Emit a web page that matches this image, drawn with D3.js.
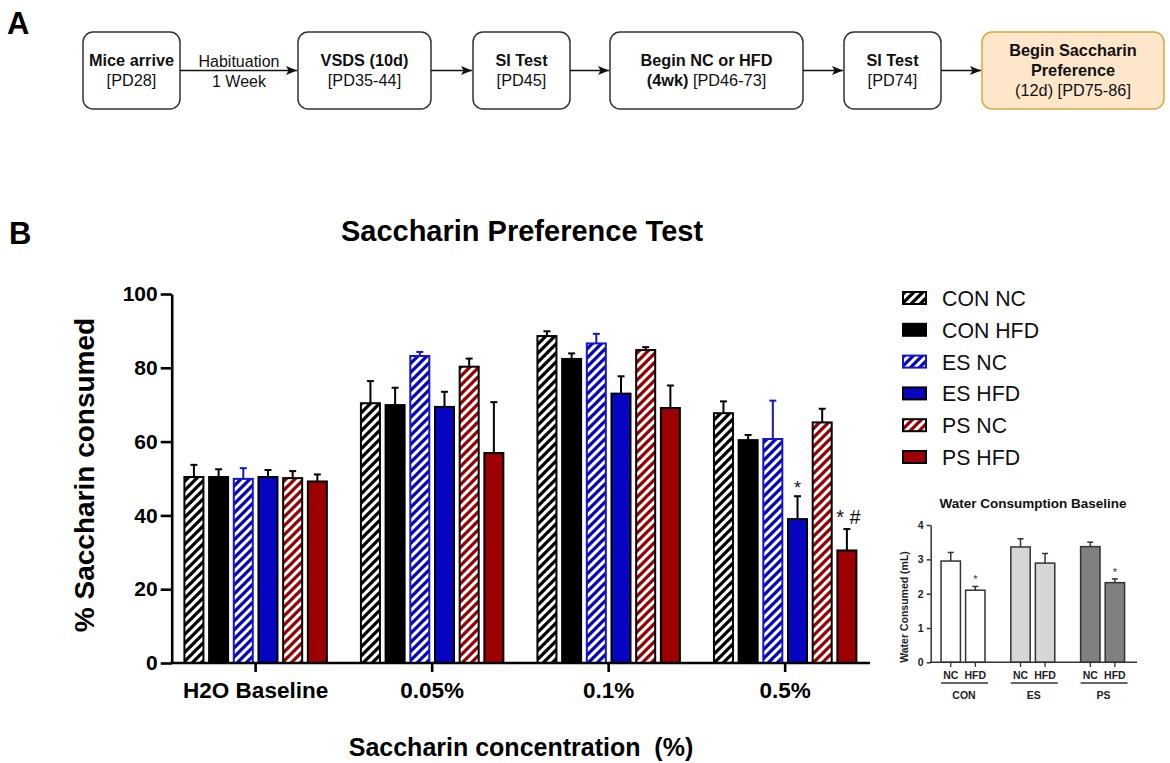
<!DOCTYPE html>
<html><head><meta charset="utf-8">
<script src="https://cdn.jsdelivr.net/npm/d3@7"></script>
<style>
body{margin:0;background:#fff}
svg{display:block}
text{font-family:"Liberation Sans",Arial,Helvetica,sans-serif}
</style>
</head><body>
<svg id="c" width="1170" height="763"></svg>
<script>
// ---------- DATA ----------
const categories = ["H2O Baseline", "0.05%", "0.1%", "0.5%"];
const seriesNames = ["CON NC", "CON HFD", "ES NC", "ES HFD", "PS NC", "PS HFD"];
const conNC     = [50.4, 70.4, 88.6, 67.7];
const conNCsem  = [3.3, 6.0, 1.3, 3.2];
const conHFD    = [50.4, 69.9, 82.4, 60.4];
const conHFDsem = [2.1, 4.7, 1.5, 1.4];
const esNC      = [49.9, 83.2, 86.6, 60.7];
const esNCsem   = [2.9, 1.1, 2.6, 10.4];
const esHFD     = [50.4, 69.4, 73.0, 39.0];
const esHFDsem  = [1.9, 4.1, 4.7, 6.2];
const psNC      = [50.1, 80.3, 84.8, 65.2];
const psNCsem   = [1.9, 2.2, 0.8, 3.7];
const psHFD     = [49.2, 56.9, 69.1, 30.5];
const psHFDsem  = [1.9, 13.8, 6.1, 5.8];
const yTicks = [0, 20, 40, 60, 80, 100];
const annotations = [ {series: "ES HFD", category: "0.5%", text: "*"}, {series: "PS HFD", category: "0.5%", text: "* #"} ];

const insetGroups = ["CON", "ES", "PS"];
const insetDiets  = ["NC", "HFD"];
const insetMeans  = [2.95, 2.10, 3.36, 2.89, 3.37, 2.32];
const insetSem    = [0.25, 0.11, 0.24, 0.28, 0.13, 0.11];
const insetStars  = ["", "*", "", "", "", "*"];
const insetTicks  = [0, 1, 2, 3, 4];

const flowSteps = [
  [[["Mice arrive", 1]], [["[PD28]", 0]]],
  [[["VSDS (10d)", 1]], [["[PD35-44]", 0]]],
  [[["SI Test", 1]], [["[PD45]", 0]]],
  [[["Begin NC or HFD", 1]], [["(4wk)", 1], [" [PD46-73]", 0]]],
  [[["SI Test", 1]], [["[PD74]", 0]]],
  [[["Begin Saccharin", 1]], [["Preference", 1]], [["(12d) [PD75-86]", 0]]]
];
const flowLinkLabels = [["Habituation", "1 Week"], null, null, null, null];

// ---------- STYLE / LAYOUT ----------
const seriesMeans = {"CON NC": conNC, "CON HFD": conHFD, "ES NC": esNC, "ES HFD": esHFD, "PS NC": psNC, "PS HFD": psHFD};
const seriesSems  = {"CON NC": conNCsem, "CON HFD": conHFDsem, "ES NC": esNCsem, "ES HFD": esHFDsem, "PS NC": psNCsem, "PS HFD": psHFDsem};
const BLUE = "#0505c2", RED = "#9c0000", EBLUE = "#1515cc";
const seriesStyle = {
  "CON NC":  {fill: "url(#hK)", stroke: "#000", err: "#000"},
  "CON HFD": {fill: "#000",     stroke: "#000", err: "#000"},
  "ES NC":   {fill: "url(#hB)", stroke: EBLUE,  err: EBLUE},
  "ES HFD":  {fill: BLUE,       stroke: "#000", err: "#000"},
  "PS NC":   {fill: "url(#hR)", stroke: "#000", err: "#000"},
  "PS HFD":  {fill: RED,        stroke: "#000", err: "#000"}
};
const insetFill = {"CON": "#ffffff", "ES": "#d6d6d6", "PS": "#808080"};
const boxX = [[83,180],[298,431],[473,570],[610,803],[844,941],[982,1164]];

const svg = d3.select("#c");
const defs = svg.append("defs");
[["hK","#000"],["hB",BLUE],["hR",RED]].forEach(([id,col])=>{
  const p = defs.append("pattern").attr("id",id).attr("patternUnits","userSpaceOnUse")
    .attr("width",9).attr("height",9);
  p.append("rect").attr("width",9).attr("height",9).attr("fill","#fff");
  p.append("path").attr("d","M-2,2 L2,-2 M0,9 L9,0 M7,11 L11,7")
    .attr("stroke",col).attr("stroke-width",3.3).attr("stroke-linecap","square");
});
defs.append("marker").attr("id","arr").attr("markerUnits","userSpaceOnUse")
  .attr("markerWidth",12).attr("markerHeight",10).attr("refX",11).attr("refY",4.5)
  .attr("orient","auto")
  .append("path").attr("d","M0,0 L11,4.5 L0,9 L2.5,4.5 z").attr("fill","#111");

// ---------- PANEL A: flow chart ----------
svg.append("text").attr("x",7).attr("y",34).attr("font-size",31).attr("font-weight","bold").text("A");
const boxTop = 32, boxBot = 109, midY = (boxTop+boxBot)/2;
flowSteps.forEach((lines,i)=>{
  const [x1,x2] = boxX[i];
  const last = i === flowSteps.length-1;
  svg.append("rect").attr("x",x1).attr("y",boxTop).attr("width",x2-x1).attr("height",boxBot-boxTop)
    .attr("rx",10).attr("fill", last ? "#fde6ca" : "#fff")
    .attr("stroke", last ? "#d8a640" : "#333").attr("stroke-width",1.5);
  const cx = (x1+x2)/2;
  const startY = midY - (lines.length-1)*10 - 0.5;
  lines.forEach((parts,j)=>{
    const t = svg.append("text").attr("x",cx).attr("y",startY + j*20)
      .attr("text-anchor","middle").attr("dominant-baseline","central")
      .attr("font-size",16.3).attr("fill","#111").style("white-space","pre");
    parts.forEach(([s,b])=>t.append("tspan").attr("font-weight", b ? "bold" : "normal").text(s));
  });
  if (i < flowSteps.length-1) {
    const xa = x2, xb = boxX[i+1][0];
    svg.append("line").attr("x1",xa).attr("x2",xb-1).attr("y1",midY).attr("y2",midY)
      .attr("stroke","#111").attr("stroke-width",1.5).attr("marker-end","url(#arr)");
    const lab = flowLinkLabels[i];
    if (lab) {
      svg.append("text").attr("x",(xa+xb)/2).attr("y",midY-9).attr("text-anchor","middle")
        .attr("dominant-baseline","central").attr("font-size",16).attr("fill","#111").text(lab[0]);
      svg.append("text").attr("x",(xa+xb)/2).attr("y",midY+11).attr("text-anchor","middle")
        .attr("dominant-baseline","central").attr("font-size",16).attr("fill","#111").text(lab[1]);
    }
  }
});

// ---------- PANEL B: main chart ----------
svg.append("text").attr("x",9).attr("y",244).attr("font-size",31).attr("font-weight","bold").text("B");
svg.append("text").attr("x",522).attr("y",231).attr("text-anchor","middle").attr("dominant-baseline","central")
  .attr("font-size",29).attr("font-weight","bold").text("Saccharin Preference Test");

const y = d3.scaleLinear().domain([0,100]).range([663,294]);
const x0 = d3.scaleBand().domain(categories).range([171.7,869.1]).paddingInner(0.193).paddingOuter(0.072);
const x1 = d3.scaleBand().domain(seriesNames).range([0,x0.bandwidth()]).paddingInner(0.23);

const gBars = svg.append("g");
categories.forEach((cat,ci)=>{
  seriesNames.forEach(s=>{
    const m = seriesMeans[s][ci], e = seriesSems[s][ci], st = seriesStyle[s];
    const bx = x0(cat)+x1(s), bw = x1.bandwidth(), cx = bx + bw/2;
    gBars.append("line").attr("x1",cx).attr("x2",cx).attr("y1",y(m)).attr("y2",y(m+e))
      .attr("stroke",st.err).attr("stroke-width",2);
    gBars.append("line").attr("x1",cx-3.5).attr("x2",cx+3.5).attr("y1",y(m+e)).attr("y2",y(m+e))
      .attr("stroke",st.err).attr("stroke-width",2);
    gBars.append("rect").attr("x",bx).attr("y",y(m)).attr("width",bw).attr("height",y(0)-y(m))
      .attr("fill",st.fill).attr("stroke",st.stroke).attr("stroke-width",2);
  });
});
annotations.forEach(a=>{
  const ci = categories.indexOf(a.category);
  const top = y(seriesMeans[a.series][ci] + seriesSems[a.series][ci]);
  const cx = x0(a.category)+x1(a.series)+x1.bandwidth()/2;
  const single = a.text.length === 1;
  svg.append("text").attr("x", single ? cx : cx+1.5).attr("y", single ? top-2 : top-5)
    .attr("text-anchor","middle").attr("font-size", single ? 18 : 20).attr("fill","#111")
    .style("white-space","pre").text(a.text);
});

const yAxis = svg.append("g").attr("transform","translate(171.7,0)")
  .call(d3.axisLeft(y).tickValues(yTicks).tickSize(11).tickSizeOuter(0).tickPadding(3));
yAxis.select(".domain").attr("stroke","#000").attr("stroke-width",2.6);
yAxis.selectAll(".tick line").attr("stroke","#000").attr("stroke-width",2.6);
yAxis.selectAll(".tick text").attr("font-size",21).attr("font-weight","bold").attr("fill","#000")
  .attr("font-family","Liberation Sans, Arial, sans-serif");

const xAxis = svg.append("g").attr("transform","translate(0,663)")
  .call(d3.axisBottom(x0).tickSize(9).tickSizeOuter(0).tickPadding(10));
xAxis.select(".domain").attr("d","M170.4,0H870").attr("stroke","#000").attr("stroke-width",2.6);
xAxis.selectAll(".tick line").attr("stroke","#000").attr("stroke-width",2.6);
xAxis.selectAll(".tick text").attr("font-size",22.5).attr("font-weight","bold").attr("fill","#000")
  .attr("font-family","Liberation Sans, Arial, sans-serif");

svg.append("text").attr("transform","translate(84,475) rotate(-90)").attr("text-anchor","middle")
  .attr("dominant-baseline","central").attr("font-size",28).attr("font-weight","bold")
  .text("% Saccharin consumed");
svg.append("text").attr("x",521).attr("y",747).attr("text-anchor","middle").attr("dominant-baseline","central")
  .attr("font-size",25).attr("font-weight","bold").style("white-space","pre")
  .text("Saccharin concentration  (%)");

// legend
seriesNames.forEach((s,i)=>{
  const cy = 298 + i*31.8, st = seriesStyle[s];
  svg.append("rect").attr("x",903).attr("y",cy-6).attr("width",23).attr("height",12)
    .attr("fill",st.fill).attr("stroke",st.stroke).attr("stroke-width",2);
  svg.append("text").attr("x",942).attr("y",cy+1).attr("dominant-baseline","central")
    .attr("font-size",21.3).attr("fill","#111").text(s);
});

// ---------- INSET ----------
const yi = d3.scaleLinear().domain([0,4]).range([662.3,525]);
const xi0 = d3.scaleBand().domain(insetGroups).range([930.7,1134.9]).paddingInner(0.37).paddingOuter(0.148);
const xi1 = d3.scaleBand().domain(insetDiets).range([0,xi0.bandwidth()]).paddingInner(0.21);

svg.append("text").attr("x",1033).attr("y",503).attr("text-anchor","middle").attr("dominant-baseline","central")
  .attr("font-size",13.5).attr("font-weight","bold").attr("fill","#111").text("Water Consumption Baseline");

insetGroups.forEach((g,gi)=>{
  insetDiets.forEach((d,di)=>{
    const k = gi*2+di, m = insetMeans[k], e = insetSem[k];
    const bx = xi0(g)+xi1(d), bw = xi1.bandwidth(), cx = bx+bw/2;
    svg.append("line").attr("x1",cx).attr("x2",cx).attr("y1",yi(m)).attr("y2",yi(m+e))
      .attr("stroke","#333").attr("stroke-width",1.5);
    svg.append("line").attr("x1",cx-3).attr("x2",cx+3).attr("y1",yi(m+e)).attr("y2",yi(m+e))
      .attr("stroke","#333").attr("stroke-width",1.5);
    svg.append("rect").attr("x",bx).attr("y",yi(m)).attr("width",bw).attr("height",yi(0)-yi(m))
      .attr("fill",insetFill[g]).attr("stroke","#333").attr("stroke-width",1.5);
    svg.append("line").attr("x1",cx).attr("x2",cx).attr("y1",662.3).attr("y2",667)
      .attr("stroke","#333").attr("stroke-width",1.3);
    svg.append("text").attr("x",cx).attr("y",675).attr("text-anchor","middle").attr("dominant-baseline","central")
      .attr("font-size",10.5).attr("font-weight","bold").attr("fill","#222").text(d);
    if (insetStars[k]) {
      svg.append("text").attr("x",cx).attr("y",yi(m+e)-3).attr("text-anchor","middle")
        .attr("font-size",11).attr("fill","#333").text(insetStars[k]);
    }
  });
  svg.append("line").attr("x1",xi0(g)).attr("x2",xi0(g)+xi0.bandwidth()+3).attr("y1",683).attr("y2",683)
    .attr("stroke","#333").attr("stroke-width",1.4);
  svg.append("text").attr("x",xi0(g)+xi0.bandwidth()/2+1).attr("y",694.5).attr("text-anchor","middle")
    .attr("dominant-baseline","central").attr("font-size",10.5).attr("font-weight","bold").attr("fill","#222").text(g);
});

const yiAxis = svg.append("g").attr("transform","translate(930.7,0)")
  .call(d3.axisLeft(yi).tickValues(insetTicks).tickFormat(d3.format("d")).tickSize(4).tickSizeOuter(0).tickPadding(3));
yiAxis.select(".domain").attr("stroke","#333").attr("stroke-width",1.5);
yiAxis.selectAll(".tick line").attr("stroke","#333").attr("stroke-width",1.5);
yiAxis.selectAll(".tick text").attr("font-size",10.5).attr("font-weight","bold").attr("fill","#222")
  .attr("font-family","Liberation Sans, Arial, sans-serif");
svg.append("line").attr("x1",930).attr("x2",1137).attr("y1",662.3).attr("y2",662.3)
  .attr("stroke","#333").attr("stroke-width",1.5);
svg.append("text").attr("transform","translate(904,607) rotate(-90)").attr("text-anchor","middle")
  .attr("dominant-baseline","central").attr("font-size",10.5).attr("font-weight","bold").attr("fill","#222")
  .text("Water Consumed (mL)");
</script>
</body></html>
